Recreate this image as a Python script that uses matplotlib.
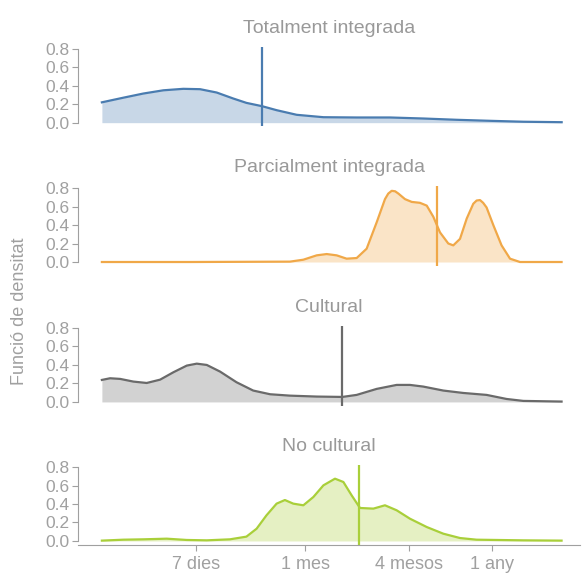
import matplotlib.pyplot as plt
from matplotlib.ticker import NullLocator

plt.rcParams['font.family'] = ['Liberation Sans', 'DejaVu Sans']

# titols dels quatre panells
titols = ['Totalment integrada', 'Parcialment integrada', 'Cultural', 'No cultural']

# corbes de densitat llegides del grafic (x en dies)
totalment_dies = [1.99, 2.65, 3.46, 4.52, 5.90, 7.38, 9.21, 11.5, 13.7, 16.9, 20.5,
                  26.8, 38.3, 59.7, 93.1, 145, 227, 354, 552, 921]
totalment_dens = [0.22, 0.27, 0.315, 0.35, 0.366, 0.362, 0.326, 0.261, 0.214, 0.178,
                  0.135, 0.085, 0.059, 0.056, 0.056, 0.045, 0.031, 0.02, 0.01, 0.005]

parcial_dies = [1.99, 6.46, 24.5, 29.3, 35.0, 40.0, 45.7, 52.2, 59.7, 68.2, 78.0, 87.1,
                91.0, 95.3, 99.7, 104.2, 113.8, 124.5, 139.0, 152.1, 166.0, 181.6,
                202.8, 216.8, 237.1, 259.4, 283.1, 296.0, 309.7, 323.0, 338.1, 369.8,
                413.0, 462.4, 528.4, 920]
parcial_dens = [0, 0, 0.004, 0.025, 0.072, 0.086, 0.072, 0.036, 0.043, 0.144, 0.43, 0.68,
                0.74, 0.77, 0.765, 0.74, 0.68, 0.65, 0.64, 0.61, 0.49, 0.32, 0.20, 0.18,
                0.25, 0.47, 0.63, 0.665, 0.67, 0.64, 0.59, 0.40, 0.18, 0.036, 0, 0]

cultural_dies = [1.99, 2.22, 2.54, 3.03, 3.62, 4.33, 5.17, 6.18, 7.06, 8.07, 9.64, 12.0,
                 15.0, 18.8, 24.5, 35.0, 49.3, 59.7, 78.0, 101.8, 121.6, 145.2, 189.7,
                 247.7, 338.1, 441.6, 552, 920]
cultural_dens = [0.238, 0.256, 0.249, 0.22, 0.205, 0.241, 0.321, 0.393, 0.414, 0.40,
                 0.328, 0.213, 0.123, 0.083, 0.068, 0.058, 0.054, 0.076, 0.141, 0.184,
                 0.184, 0.166, 0.123, 0.097, 0.076, 0.032, 0.011, 0.004]

nocultural_dies = [1.99, 2.65, 3.46, 4.73, 6.18, 8.07, 11.0, 13.7, 15.7, 17.9, 20.5, 22.9,
                   25.6, 29.3, 33.5, 38.3, 44.7, 50.0, 55.8, 62.4, 74.6, 87.1, 101.8,
                   121.6, 152.1, 189.7, 237.1, 295.8, 552, 920]
nocultural_dens = [0.004, 0.014, 0.018, 0.025, 0.011, 0.007, 0.018, 0.047, 0.133, 0.277,
                   0.404, 0.443, 0.404, 0.386, 0.476, 0.602, 0.674, 0.638, 0.494, 0.357,
                   0.35, 0.386, 0.332, 0.241, 0.151, 0.079, 0.032, 0.014, 0.007, 0.004]

# mediana de cada grup (linia vertical)
medianes = [16.9, 174, 49.3, 61.7]

# eix x
ticks_dies = [7, 30, 120, 365]
ticks_etiquetes = ['7 dies', '1 mes', '4 mesos', '1 any']
ticks_y = [0.0, 0.2, 0.4, 0.6, 0.8]

series = [(totalment_dies, totalment_dens), (parcial_dies, parcial_dens),
          (cultural_dies, cultural_dens), (nocultural_dies, nocultural_dens)]
colors = ['#4a7cb0', '#f0a848', '#6a6a6a', '#a9cf3a']
gris = '#a0a0a0'

fig = plt.figure(figsize=(5.83, 5.77), dpi=100)

# posicio de cada panell (de dalt a baix)
baixos = [0.781, 0.5395, 0.297, 0.056]

for i in range(4):
    ax = fig.add_axes([0.134, baixos[i], 0.861, 0.1378])
    x, y = series[i]
    ax.fill_between(x, y, 0, color=colors[i], alpha=0.3, linewidth=0)
    ax.plot(x, y, color=colors[i], linewidth=1.6, solid_joinstyle='round')
    ax.axvline(medianes[i], color=colors[i], linewidth=1.6)

    ax.set_xscale('log')
    ax.set_xlim(1.449, 1178)
    ax.set_ylim(-0.04, 0.82)
    ax.xaxis.set_minor_locator(NullLocator())

    ax.set_title(titols[i], color='#999999', fontsize=14, pad=10)

    # espines: nomes l'esquerra (0-0.8) i la de baix al darrer panell
    for s in ['top', 'right']:
        ax.spines[s].set_visible(False)
    ax.spines['left'].set_bounds(0, 0.8)
    ax.spines['left'].set_color(gris)
    ax.set_yticks(ticks_y)
    ax.set_yticklabels(['%.1f' % t for t in ticks_y])
    ax.tick_params(axis='y', colors=gris, labelsize=12.5, length=4, pad=2)

    if i == 3:
        ax.spines['bottom'].set_color(gris)
        ax.set_xticks(ticks_dies)
        ax.set_xticklabels(ticks_etiquetes)
        ax.tick_params(axis='x', colors=gris, labelsize=13, length=4, pad=4)
    else:
        ax.spines['bottom'].set_visible(False)
        ax.set_xticks([])

fig.text(0.033, 0.461, 'Funció de densitat', rotation=90, color=gris,
         fontsize=13, ha='center', va='center')

plt.savefig('out.png', dpi=100, facecolor='white')
